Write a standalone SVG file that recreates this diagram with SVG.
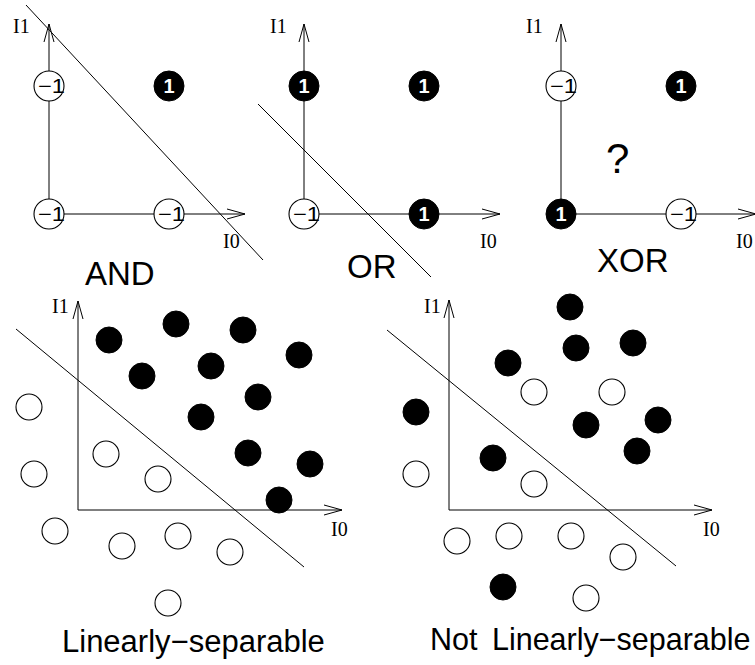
<svg xmlns="http://www.w3.org/2000/svg" width="755" height="665" viewBox="0 0 755 665">
  <defs>
    <style>
      .ax { stroke:#000; stroke-width:1; fill:none; marker-end:url(#arr); }
      .sep { stroke:#000; stroke-width:1; fill:none; }
      .open { fill:#fff; stroke:#000; stroke-width:1.1; }
      .full { fill:#000; stroke:#000; stroke-width:1; }
      .axl { font-family:"Liberation Serif", "Times New Roman", serif; font-size:20px; fill:#000; }
      .ttl { font-family:"Liberation Sans", Arial, sans-serif; font-size:33px; fill:#000; }
      .cap { font-family:"Liberation Sans", Arial, sans-serif; font-size:31px; fill:#000; }
      .neg { font-family:"Liberation Sans", Arial, sans-serif; font-size:20px; fill:#000; }
      .one { font-family:"Liberation Sans", Arial, sans-serif; font-size:20px; font-weight:bold; fill:#fff; text-anchor:middle; }
    </style>
    <marker id="arr" viewBox="0 0 20 12" markerWidth="20" markerHeight="12" refX="18" refY="6" orient="auto" markerUnits="userSpaceOnUse" overflow="visible">
      <path d="M0,1 L18,6 L0,11" fill="none" stroke="#000" stroke-width="1"/>
    </marker>
  </defs>
  <rect width="755" height="665" fill="#fff"/>

  <!-- axes and separating lines -->
  <g id="connectors">
    <!-- AND -->
    <line class="ax" x1="49" y1="214" x2="49" y2="24"/>
    <line class="ax" x1="49" y1="214" x2="245" y2="214"/>
    <line class="sep" x1="26" y1="5" x2="263" y2="260"/>
    <!-- OR -->
    <line class="ax" x1="304" y1="214" x2="304" y2="24"/>
    <line class="ax" x1="304" y1="214" x2="500" y2="214"/>
    <line class="sep" x1="258" y1="104" x2="431" y2="277"/>
    <!-- XOR -->
    <line class="ax" x1="561" y1="214" x2="561" y2="24"/>
    <line class="ax" x1="561" y1="214" x2="756" y2="214"/>
    <!-- linearly separable -->
    <line class="ax" x1="78" y1="510" x2="78" y2="301"/>
    <line class="ax" x1="78" y1="510" x2="342" y2="510"/>
    <line class="sep" x1="16" y1="329" x2="304" y2="567"/>
    <!-- not linearly separable -->
    <line class="ax" x1="449" y1="510" x2="449" y2="300"/>
    <line class="ax" x1="449" y1="510" x2="712" y2="510"/>
    <line class="sep" x1="387" y1="330" x2="676" y2="566"/>
  </g>

  <!-- axis labels -->
  <g id="axis-labels" class="axl">
    <text x="13" y="33">I1</text>
    <text x="223" y="248">I0</text>
    <text x="270" y="33">I1</text>
    <text x="480" y="248">I0</text>
    <text x="526" y="33">I1</text>
    <text x="736" y="248">I0</text>
    <text x="52" y="313">I1</text>
    <text x="331" y="536">I0</text>
    <text x="424" y="313">I1</text>
    <text x="703" y="536">I0</text>
  </g>

  <!-- AND truth table -->
  <g id="and-00"><circle class="open" cx="49" cy="214" r="15"/><text class="neg" x="38" y="221" textLength="27" lengthAdjust="spacingAndGlyphs">−1</text></g>
  <g id="and-10"><circle class="open" cx="169" cy="214" r="15"/><text class="neg" x="158" y="221" textLength="27" lengthAdjust="spacingAndGlyphs">−1</text></g>
  <g id="and-01"><circle class="open" cx="49" cy="86" r="15"/><text class="neg" x="38" y="93" textLength="27" lengthAdjust="spacingAndGlyphs">−1</text></g>
  <g id="and-11"><circle class="full" cx="169" cy="86" r="15"/><text class="one" x="169" y="93">1</text></g>

  <!-- OR truth table -->
  <g id="or-00"><circle class="open" cx="304" cy="214" r="15"/><text class="neg" x="293" y="221" textLength="27" lengthAdjust="spacingAndGlyphs">−1</text></g>
  <g id="or-10"><circle class="full" cx="424" cy="214" r="15"/><text class="one" x="424" y="221">1</text></g>
  <g id="or-01"><circle class="full" cx="304" cy="86" r="15"/><text class="one" x="304" y="93">1</text></g>
  <g id="or-11"><circle class="full" cx="424" cy="86" r="15"/><text class="one" x="424" y="93">1</text></g>

  <!-- XOR truth table -->
  <g id="xor-00"><circle class="full" cx="561" cy="214" r="15"/><text class="one" x="561" y="221">1</text></g>
  <g id="xor-10"><circle class="open" cx="681" cy="214" r="15"/><text class="neg" x="670" y="221" textLength="27" lengthAdjust="spacingAndGlyphs">−1</text></g>
  <g id="xor-01"><circle class="open" cx="561" cy="86" r="15"/><text class="neg" x="550" y="93" textLength="27" lengthAdjust="spacingAndGlyphs">−1</text></g>
  <g id="xor-11"><circle class="full" cx="681" cy="86" r="15"/><text class="one" x="681" y="93">1</text></g>
  <g id="xor-question"><text class="ttl" x="606" y="173" style="font-size:42px">?</text></g>

  <!-- panel titles -->
  <g id="titles" class="ttl">
    <text x="85" y="285">AND</text>
    <text x="347" y="278">OR</text>
    <text x="597" y="272">XOR</text>
  </g>

  <!-- separable point set -->
  <g id="sep-positive">
    <circle class="full" cx="109" cy="340" r="13"/>
    <circle class="full" cx="176" cy="324" r="13"/>
    <circle class="full" cx="243" cy="330" r="13"/>
    <circle class="full" cx="299" cy="355" r="13"/>
    <circle class="full" cx="142" cy="376" r="13"/>
    <circle class="full" cx="211" cy="366" r="13"/>
    <circle class="full" cx="258" cy="397" r="13"/>
    <circle class="full" cx="201" cy="417" r="13"/>
    <circle class="full" cx="248" cy="453" r="13"/>
    <circle class="full" cx="310" cy="464" r="13"/>
    <circle class="full" cx="279" cy="500" r="13"/>
  </g>
  <g id="sep-negative">
    <circle class="open" cx="29" cy="407" r="13"/>
    <circle class="open" cx="34" cy="474" r="13"/>
    <circle class="open" cx="106" cy="454" r="13"/>
    <circle class="open" cx="158" cy="479" r="13"/>
    <circle class="open" cx="55" cy="531" r="13"/>
    <circle class="open" cx="122" cy="546" r="13"/>
    <circle class="open" cx="178" cy="536" r="13"/>
    <circle class="open" cx="230" cy="552" r="13"/>
    <circle class="open" cx="168" cy="603" r="13"/>
  </g>

  <!-- non-separable point set -->
  <g id="nonsep-positive">
    <circle class="full" cx="570" cy="307" r="13"/>
    <circle class="full" cx="576" cy="348" r="13"/>
    <circle class="full" cx="633" cy="343" r="13"/>
    <circle class="full" cx="508" cy="363" r="13"/>
    <circle class="full" cx="416" cy="412" r="13"/>
    <circle class="full" cx="586" cy="425" r="13"/>
    <circle class="full" cx="658" cy="420" r="13"/>
    <circle class="full" cx="637" cy="451" r="13"/>
    <circle class="full" cx="493" cy="458" r="13"/>
    <circle class="full" cx="503" cy="587" r="13"/>
  </g>
  <g id="nonsep-negative">
    <circle class="open" cx="534" cy="392" r="13"/>
    <circle class="open" cx="612" cy="392" r="13"/>
    <circle class="open" cx="416" cy="474" r="13"/>
    <circle class="open" cx="534" cy="484" r="13"/>
    <circle class="open" cx="457" cy="541" r="13"/>
    <circle class="open" cx="509" cy="536" r="13"/>
    <circle class="open" cx="571" cy="536" r="13"/>
    <circle class="open" cx="623" cy="557" r="13"/>
    <circle class="open" cx="586" cy="598" r="13"/>
  </g>

  <!-- captions -->
  <g id="captions" class="cap">
    <text x="62" y="652">Linearly−separable</text>
    <text x="430" y="650" style="font-size:30.5px; word-spacing:6px">Not Linearly−separable</text>
  </g>
</svg>
